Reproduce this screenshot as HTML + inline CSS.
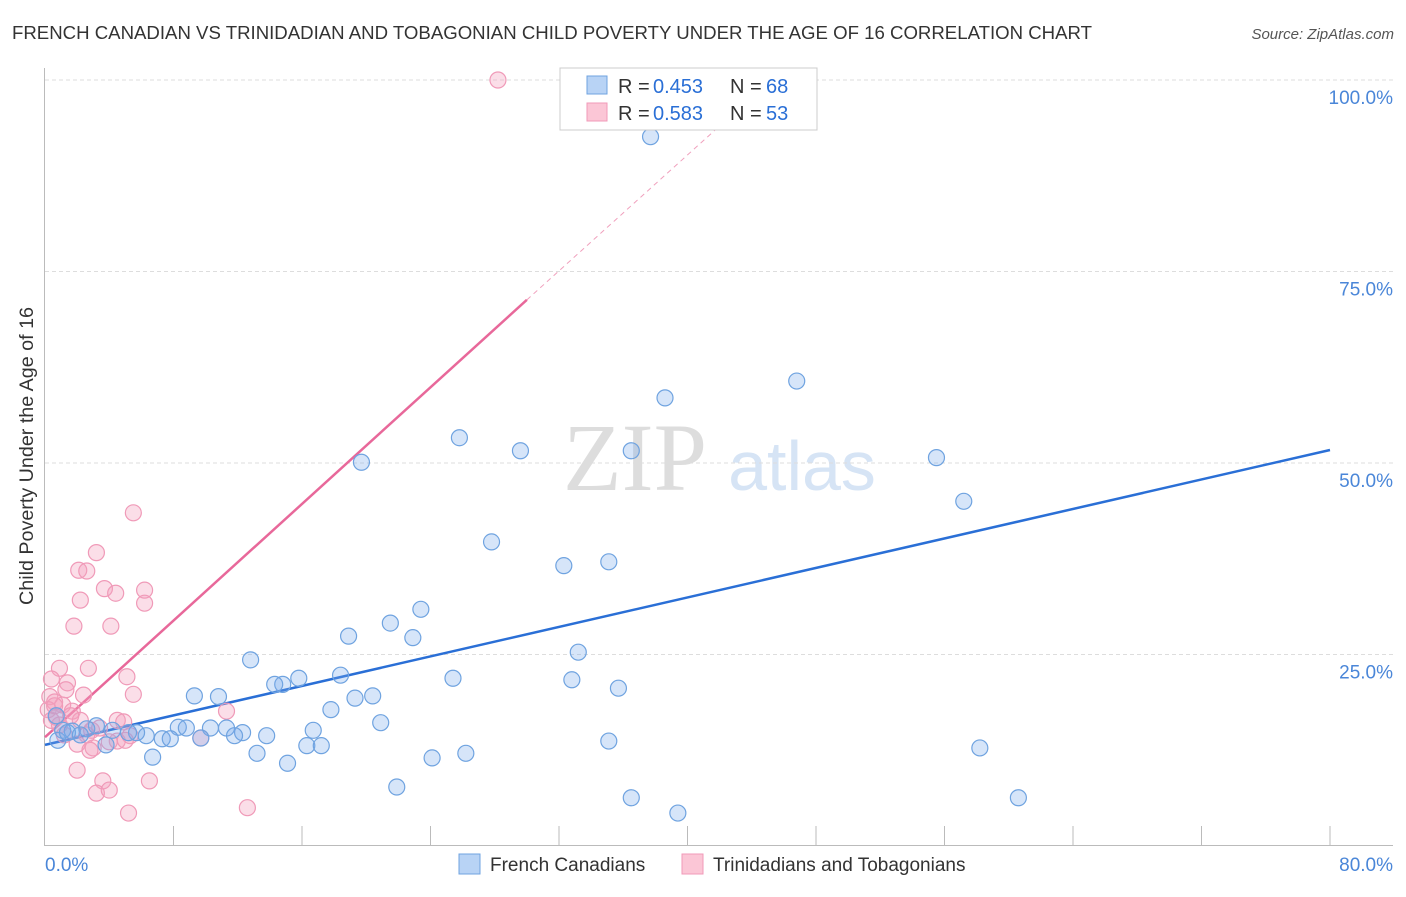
<!DOCTYPE html>
<html><head><meta charset="utf-8"><style>
body{margin:0;background:#fff;font-family:"Liberation Sans",sans-serif;}
</style></head><body>
<svg id="chart" width="1406" height="892" xmlns="http://www.w3.org/2000/svg" font-family="Liberation Sans, sans-serif">
<text x="12" y="39" font-size="18" fill="#333" textLength="1080" lengthAdjust="spacingAndGlyphs">FRENCH CANADIAN VS TRINIDADIAN AND TOBAGONIAN CHILD POVERTY UNDER THE AGE OF 16 CORRELATION CHART</text>
<text x="1394" y="39" font-size="15" fill="#555" text-anchor="end" font-style="italic">Source: ZipAtlas.com</text>
<text transform="translate(33,456) rotate(-90)" font-size="19" fill="#333" text-anchor="middle" textLength="298" lengthAdjust="spacingAndGlyphs">Child Poverty Under the Age of 16</text>
<g>
<text x="635" y="490" font-size="96" fill="#ddd" text-anchor="middle" font-family="Liberation Serif, serif">ZIP</text>
<text x="802" y="490" font-size="70" fill="#d6e4f5" text-anchor="middle">atlas</text>
</g>
<g id="grid"></g><g id="axes"></g><g id="trend"></g><g id="pts"></g>
<g>
<rect x="560" y="68" width="257" height="62" fill="#fff" stroke="#ccc"/>
<rect x="587" y="76" width="20" height="18" fill="#b8d3f5" stroke="#6fa3e0"/>
<text x="618" y="93" font-size="20" fill="#333">R = </text><text x="653" y="93" font-size="20" fill="#2a6fd6">0.453</text>
<text x="730" y="93" font-size="20" fill="#333">N = </text><text x="766" y="93" font-size="20" fill="#2a6fd6">68</text>
<rect x="587" y="103" width="20" height="18" fill="#fbc6d6" stroke="#f09ab8"/>
<text x="618" y="120" font-size="20" fill="#333">R = </text><text x="653" y="120" font-size="20" fill="#2a6fd6">0.583</text>
<text x="730" y="120" font-size="20" fill="#333">N = </text><text x="766" y="120" font-size="20" fill="#2a6fd6">53</text>
</g>
<g>
<rect x="459" y="854" width="21" height="20" fill="#b8d3f5" stroke="#6fa3e0"/>
<text x="490" y="871" font-size="19" fill="#333">French Canadians</text>
<rect x="682" y="854" width="21" height="20" fill="#fbc6d6" stroke="#f09ab8"/>
<text x="713" y="871" font-size="19" fill="#333">Trinidadians and Tobagonians</text>
</g>
</svg>
<script>
const blueX=[37.7,46.8,38.6,25.8,29.6,36.5,19.7,55.5,57.2,27.8,32.3,35.1,23.4,21.5,22.9,18.9,33.2,12.8,32.8,25.4,35.7,15.8,18.4,14.8,14.3,9.3,10.8,19.3,20.4,17.8,20.9,8.3,8.8,10.3,11.3,16.7,12.3,11.8,13.8,9.7,7.3,7.8,6.3,5.7,4.2,3.2,2.6,1.7,1.1,0.8,1.4,2.2,3.8,5.2,6.7,13.2,15.1,16.3,17.2,24.1,26.2,21.9,35.1,36.5,39.4,58.2,60.6,0.7];
const blueY=[92.6,60.7,58.5,53.3,51.6,51.6,50.1,50.7,45.0,39.7,36.6,37.1,30.9,29.1,27.2,27.4,25.3,24.3,21.7,21.9,20.6,21.9,22.3,21.1,21.1,19.6,19.5,19.3,19.6,17.8,16.1,15.5,15.4,15.4,15.4,15.1,14.8,14.4,14.4,14.1,14.0,14.0,14.4,14.8,15.1,15.7,15.3,15.0,15.1,13.8,14.8,14.5,13.2,14.8,11.6,12.1,10.8,13.1,13.1,11.5,12.1,7.7,13.7,6.3,4.3,12.8,6.3,17.0];
const pinkX=[28.2,5.5,3.2,2.1,2.6,3.7,4.4,6.2,6.2,2.2,1.8,4.1,0.9,2.7,5.1,0.4,1.4,1.3,2.4,5.5,0.3,0.6,1.1,0.2,1.7,11.3,0.4,2.2,4.5,4.9,0.9,2.9,1.2,2.6,5.3,9.7,4.5,5.0,2.0,3.0,2.8,2.0,3.6,6.5,3.2,4.0,12.6,5.2,3.4,0.7,1.6,4.0,0.6];
const pinkY=[100,43.5,38.3,36.0,35.9,33.6,33.0,33.4,31.7,32.1,28.7,28.7,23.2,23.2,22.1,21.8,21.3,20.4,19.7,19.8,19.5,18.8,18.4,17.8,17.6,17.6,16.4,16.4,16.4,16.2,15.8,15.1,14.5,14.5,14.4,14.1,13.7,13.8,13.3,12.8,12.5,9.9,8.5,8.5,6.9,7.3,5.0,4.3,15.4,16.8,17.0,13.6,18.3];
const blueTrendX=[0,80], blueTrendY=[13.2,51.7];
const pinkTrendX=[0,30.0], pinkTrendY=[14.2,71.3];
const pinkDashX=[30.0,42.0], pinkDashY=[71.3,94.0];
const yTicks=[25,50,75,100];
const yTickLabels=["25.0%","50.0%","75.0%","100.0%"];
const xTickLabels=["0.0%","80.0%"];
const NS="http://www.w3.org/2000/svg";
const sx=v=>45+v*1285/80, sy=v=>846-v*7.66;
function mk(tag,attrs,parent){const e=document.createElementNS(NS,tag);for(const k in attrs)e.setAttribute(k,attrs[k]);document.getElementById(parent).appendChild(e);return e;}
yTicks.forEach((t,i)=>{
 const g=mk('line',{x1:45,x2:1393,y1:sy(t),y2:sy(t),stroke:'#ddd','stroke-dasharray':'4,3'},'grid');
 
 
 const l=mk('text',{x:1393,y:sy(t)+24,'font-size':19,fill:'#4a86d8','text-anchor':'end'},'grid');
 l.textContent=yTickLabels[i];
 
 
});
const ax=mk('line',{x1:44.5,x2:44.5,y1:68,y2:845.5,stroke:'#bbb'},'axes');


const bx=mk('line',{x1:44,x2:1393,y1:845.5,y2:845.5,stroke:'#bbb'},'axes');


for(let i=1;i<=10;i++){const t=mk('line',{x1:sx(i*8),x2:sx(i*8),y1:826,y2:845,stroke:'#bbb'},'axes');
 
 }
[[0,'start',45],[80,'end',1393]].forEach((p,i)=>{const t=mk('text',{x:p[2],y:871,'font-size':19,fill:'#4a86d8','text-anchor':p[1]},'axes');t.textContent=xTickLabels[i];
 
 });
function pts(X,Y,fill,stroke,name){X.forEach((x,i)=>{const c=mk('circle',{cx:sx(x),cy:sy(Y[i]),r:8,fill:fill,stroke:stroke,'stroke-width':1.2},'pts');
 
 });}
pts(pinkX,pinkY,'rgba(244,160,190,0.35)','#f09ab8','trinidadian-point');
pts(blueX,blueY,'rgba(120,170,235,0.3)','#6fa3e0','french-canadian-point');
const bl=mk('line',{x1:sx(blueTrendX[0]),y1:sy(blueTrendY[0]),x2:sx(blueTrendX[1]),y2:sy(blueTrendY[1]),stroke:'#2a6fd6','stroke-width':2.5},'trend');


const pl=mk('line',{x1:sx(pinkTrendX[0]),y1:sy(pinkTrendY[0]),x2:sx(pinkTrendX[1]),y2:sy(pinkTrendY[1]),stroke:'#e8689a','stroke-width':2.5},'trend');


const pd=mk('line',{x1:sx(pinkDashX[0]),y1:sy(pinkDashY[0]),x2:sx(pinkDashX[1]),y2:sy(pinkDashY[1]),stroke:'#f0a0bd','stroke-width':1,'stroke-dasharray':'5,4'},'trend');


</script>
</body></html>
